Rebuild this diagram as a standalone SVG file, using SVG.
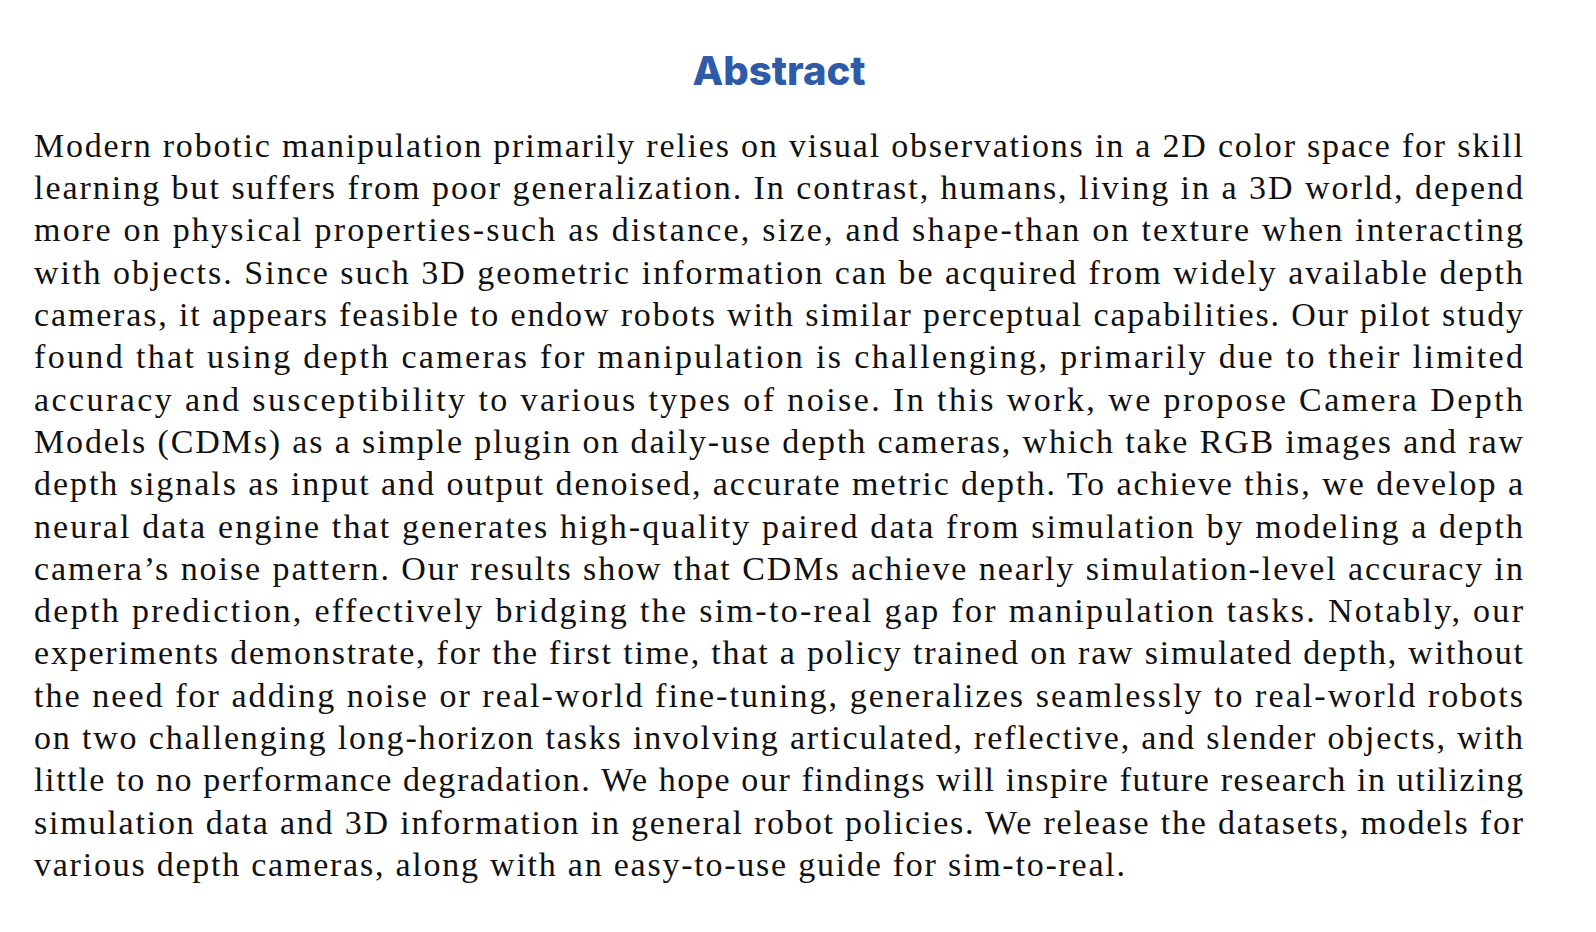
<svg xmlns="http://www.w3.org/2000/svg" width="1596" height="932" viewBox="0 0 1596 932">
<style>
.t{font-family:"Liberation Serif","DejaVu Serif",serif;font-size:34px;fill:#111}
.h{font-family:"Inter","Lato","Liberation Sans",sans-serif;font-weight:800;font-size:40px;fill:#2f5aa8}
</style>
<rect width="1596" height="932" fill="#fff"/>
<text class="h" x="779" y="85" text-anchor="middle">Abstract</text>
<g class="t">
<text x="34" y="157" textLength="1489" lengthAdjust="spacing">Modern robotic manipulation primarily relies on visual observations in a 2D color space for skill</text>
<text x="34" y="199" textLength="1489" lengthAdjust="spacing">learning but suffers from poor generalization. In contrast, humans, living in a 3D world, depend</text>
<text x="34" y="241" textLength="1489" lengthAdjust="spacing">more on physical properties-such as distance, size, and shape-than on texture when interacting</text>
<text x="34" y="284" textLength="1489" lengthAdjust="spacing">with objects. Since such 3D geometric information can be acquired from widely available depth</text>
<text x="34" y="326" textLength="1489" lengthAdjust="spacing">cameras, it appears feasible to endow robots with similar perceptual capabilities. Our pilot study</text>
<text x="34" y="368" textLength="1489" lengthAdjust="spacing">found that using depth cameras for manipulation is challenging, primarily due to their limited</text>
<text x="34" y="411" textLength="1489" lengthAdjust="spacing">accuracy and susceptibility to various types of noise. In this work, we propose Camera Depth</text>
<text x="34" y="453" textLength="1489" lengthAdjust="spacing">Models (CDMs) as a simple plugin on daily-use depth cameras, which take RGB images and raw</text>
<text x="34" y="495" textLength="1489" lengthAdjust="spacing">depth signals as input and output denoised, accurate metric depth. To achieve this, we develop a</text>
<text x="34" y="538" textLength="1489" lengthAdjust="spacing">neural data engine that generates high-quality paired data from simulation by modeling a depth</text>
<text x="34" y="580" textLength="1489" lengthAdjust="spacing">camera’s noise pattern. Our results show that CDMs achieve nearly simulation-level accuracy in</text>
<text x="34" y="622" textLength="1489" lengthAdjust="spacing">depth prediction, effectively bridging the sim-to-real gap for manipulation tasks. Notably, our</text>
<text x="34" y="664" textLength="1489" lengthAdjust="spacing">experiments demonstrate, for the first time, that a policy trained on raw simulated depth, without</text>
<text x="34" y="707" textLength="1489" lengthAdjust="spacing">the need for adding noise or real-world fine-tuning, generalizes seamlessly to real-world robots</text>
<text x="34" y="749" textLength="1489" lengthAdjust="spacing">on two challenging long-horizon tasks involving articulated, reflective, and slender objects, with</text>
<text x="34" y="791" textLength="1489" lengthAdjust="spacing">little to no performance degradation. We hope our findings will inspire future research in utilizing</text>
<text x="34" y="834" textLength="1489" lengthAdjust="spacing">simulation data and 3D information in general robot policies. We release the datasets, models for</text>
<text x="34" y="876" textLength="1091" lengthAdjust="spacing">various depth cameras, along with an easy-to-use guide for sim-to-real.</text>
</g>
</svg>
